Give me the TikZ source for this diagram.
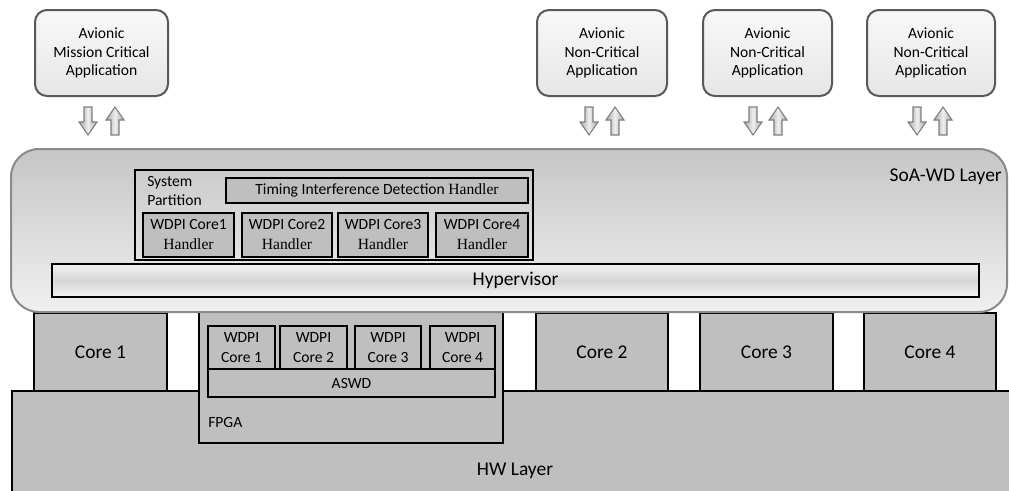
\documentclass[tikz,border=0pt]{standalone}
\usepackage{fontspec}
\setmainfont{Carlito}
\newfontfamily\hserif{Liberation Serif}
\definecolor{hwgray}{HTML}{BFBFBF}
\definecolor{appborder}{HTML}{595959}
\definecolor{apptop}{HTML}{F8F8F8}
\definecolor{appbot}{HTML}{E6E6E6}
\definecolor{soatop}{HTML}{C6C6C6}
\definecolor{soabot}{HTML}{F0F0F0}
\definecolor{soaborder}{HTML}{8A8A8A}
\definecolor{arrborder}{HTML}{7F7F7F}
\definecolor{arredge}{HTML}{A8A8A8}
\definecolor{arrmid}{HTML}{EEEEEE}
\definecolor{hyptop}{HTML}{F2F2F2}
\definecolor{hypmid}{HTML}{D6D6D6}
% box from (x1,y1) to (x2,y2) in pixel units, centred text
\newcommand\pxbox[7]{%
  \node[#1, minimum width={(#5-#3)*0.75pt}, minimum height={(#6-#4)*0.75pt}]
    (#2) at ({(#3+#5)/2},{(#4+#6)/2}) {#7};}
\tikzset{
  smallfont/.style={font=\fontsize{11.7}{14}\selectfont},
  bigfont/.style={font=\fontsize{14.6}{17}\selectfont},
  appbox/.style={draw=appborder, line width=1.5pt, rounded corners=9pt,
    top color=apptop, bottom color=appbot, inner sep=0pt, align=center,
    font=\fontsize{11.7}{13.9}\selectfont},
  soabox/.style={draw=soaborder, line width=1.5pt, rounded corners=21pt,
    top color=soatop, bottom color=soabot, inner sep=0pt},
  partbox/.style={draw=black, line width=2pt, inner sep=0pt},
  handlerbox/.style={draw=black, line width=2pt, fill=hwgray, inner sep=0pt,
    align=center, font=\fontsize{11.7}{15}\selectfont},
  hypbox/.style={draw=black, line width=1.5pt, top color=hyptop, bottom color=hyptop,
    middle color=hypmid, inner sep=0pt, font=\fontsize{14.6}{17}\selectfont},
  hwbox/.style={draw=black, line width=1.5pt, fill=hwgray, inner sep=0pt,
    font=\fontsize{14.6}{17}\selectfont},
  fpgacore/.style={draw=black, line width=1.5pt, fill=hwgray, inner sep=0pt,
    align=center, font=\fontsize{11.7}{15.5}\selectfont},
  arrowfill/.style={left color=arredge, right color=arredge, middle color=arrmid,
    draw=arrborder, line width=0.8pt},
  downarr/.pic={\path[arrowfill] (-4,0) -- (4,0) -- (4,15) -- (9,15) -- (0,28)
      -- (-9,15) -- (-4,15) -- cycle;},
  uparr/.pic={\path[arrowfill] (-4,28) -- (4,28) -- (4,13) -- (9,13) -- (0,0)
      -- (-9,13) -- (-4,13) -- cycle;}
}
\begin{document}
\begin{tikzpicture}[x=0.75pt,y=-0.75pt]
\useasboundingbox (0,0) rectangle (1009,490);
% HW layer
\pxbox{hwbox}{hw}{12}{391}{1014}{496}{}
\node[bigfont] (hwlabel) at (515,471) {HW Layer};
% FPGA
\pxbox{hwbox}{fpga}{199}{300}{503}{443}{}
\node[smallfont, anchor=west, inner sep=0pt] (fpgalabel) at (208,422) {FPGA};
\pxbox{fpgacore}{w1}{208}{326}{275}{369}{WDPI\\Core 1}
\pxbox{fpgacore}{w2}{280}{326}{347}{369}{WDPI\\Core 2}
\pxbox{fpgacore}{w3}{355}{326}{421}{369}{WDPI\\Core 3}
\pxbox{fpgacore}{w4}{430}{326}{495}{369}{WDPI\\Core 4}
\pxbox{fpgacore}{aswd}{208}{369}{495}{397}{ASWD}
% Cores
\pxbox{hwbox}{c1}{34}{313}{167}{391}{Core 1}
\pxbox{hwbox}{c2}{536}{313}{668}{391}{Core 2}
\pxbox{hwbox}{c3}{700}{313}{833}{391}{Core 3}
\pxbox{hwbox}{c4}{864}{313}{996}{391}{Core 4}
% SoA-WD layer
\pxbox{soabox}{soa}{11}{149}{1007}{312}{}
\node[bigfont, anchor=east, inner sep=0pt] (soalabel) at (1002,177) {SoA-WD Layer};
\pxbox{partbox}{sp}{135}{170}{533}{260}{}
\node[anchor=west, align=left, inner sep=0pt,
      font=\fontsize{11.7}{13.7}\selectfont] (splabel) at (147,191) {System\\Partition};
\pxbox{handlerbox}{tid}{226}{178}{528}{203}{Timing Interference Detection {\hserif Handler}}
\pxbox{handlerbox}{h1}{143}{213}{234}{257}{WDPI Core1\\{\hserif Handler}}
\pxbox{handlerbox}{h2}{242}{213}{332}{257}{WDPI Core2\\{\hserif Handler}}
\pxbox{handlerbox}{h3}{338}{213}{428}{257}{WDPI Core3\\{\hserif Handler}}
\pxbox{handlerbox}{h4}{436}{213}{528}{257}{WDPI Core4\\{\hserif Handler}}
\pxbox{hypbox}{hyp}{52}{264}{979}{297}{Hypervisor}
% Applications
\pxbox{appbox}{a1}{35}{10}{168}{96}{Avionic\\Mission Critical\\Application}
\pxbox{appbox}{a2}{537}{10}{667}{96}{Avionic\\Non-Critical\\Application}
\pxbox{appbox}{a3}{703}{10}{832}{96}{Avionic\\Non-Critical\\Application}
\pxbox{appbox}{a4}{867}{10}{995}{96}{Avionic\\Non-Critical\\Application}
% Arrows
\pic at (88,107) {downarr};
\pic at (115,107) {uparr};
\pic at (589,107) {downarr};
\pic at (615,107) {uparr};
\pic at (753,107) {downarr};
\pic at (778,107) {uparr};
\pic at (917,107) {downarr};
\pic at (943,107) {uparr};
\end{tikzpicture}
\end{document}
